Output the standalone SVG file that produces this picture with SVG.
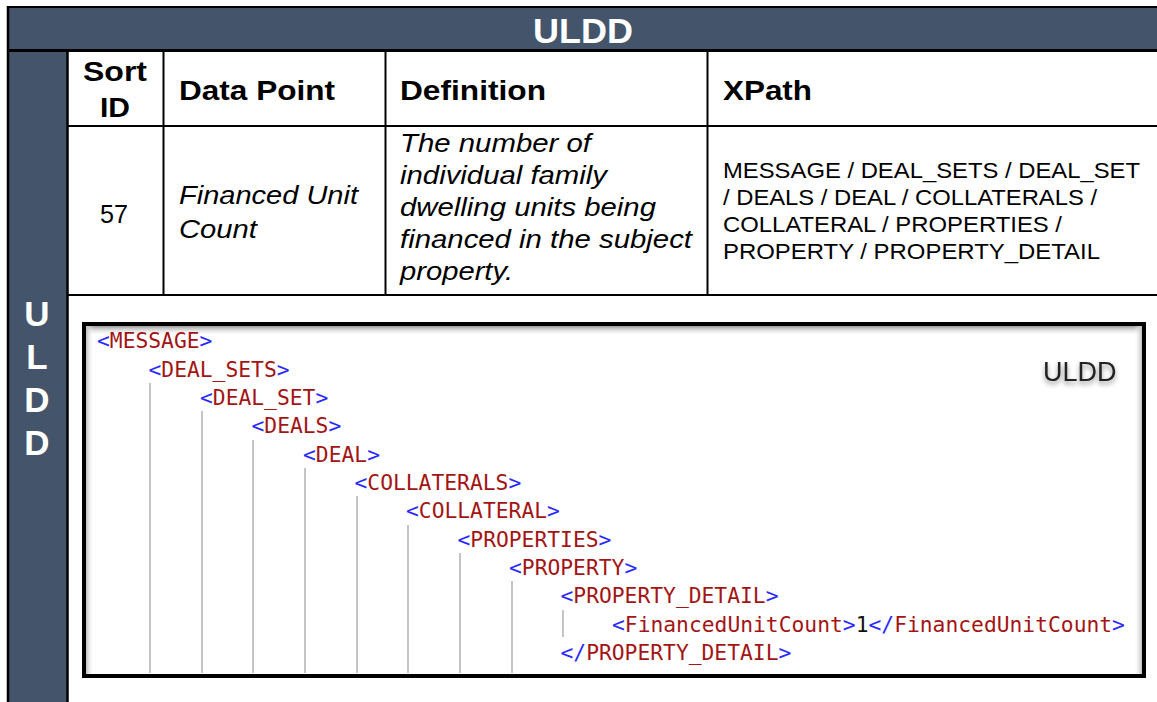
<svg xmlns="http://www.w3.org/2000/svg" width="1157" height="702" viewBox="0 0 1157 702">
<defs>
<style>
.hdr{font-family:"Liberation Sans",Arial,sans-serif;font-weight:bold;font-size:28.5px;fill:#000}
.cell{font-family:"Liberation Sans",Arial,sans-serif;font-size:26px;fill:#000}
.it{font-style:italic}
.xp{font-family:"Liberation Sans",Arial,sans-serif;font-size:21.5px;fill:#000}
.side{font-family:"Liberation Sans",Arial,sans-serif;font-weight:bold;font-size:35px;fill:#fff}
.code{font-family:"DejaVu Sans Mono","Liberation Mono",monospace;font-size:21.3px}
.b{fill:#2a2aff}
.r{fill:#a31515}
.k{fill:#111}
.guide{stroke:#c4c4c4;stroke-width:2}
.rule{stroke:#000;fill:none}
</style>
<linearGradient id="topShade" x1="0" y1="0" x2="0" y2="1">
<stop offset="0" stop-color="#9a9a9a"/>
<stop offset="1" stop-color="#ffffff" stop-opacity="0"/>
</linearGradient>
<linearGradient id="leftShade" x1="0" y1="0" x2="1" y2="0">
<stop offset="0" stop-color="#bdbdbd"/>
<stop offset="1" stop-color="#ffffff" stop-opacity="0"/>
</linearGradient>
<linearGradient id="rightShade" x1="1" y1="0" x2="0" y2="0">
<stop offset="0" stop-color="#bdbdbd"/>
<stop offset="1" stop-color="#ffffff" stop-opacity="0"/>
</linearGradient>
<filter id="shadow" x="-20%" y="-40%" width="140%" height="200%">
<feDropShadow dx="0" dy="3" stdDeviation="2.5" flood-color="#000" flood-opacity="0.45"/>
</filter>
</defs>

<rect x="0" y="0" width="1157" height="702" fill="#fff"/>

<g id="frame">
<rect x="8" y="8" width="1149" height="42" fill="#44546A"/>
<rect x="8" y="50" width="60" height="652" fill="#44546A"/>
<line class="rule" x1="7" y1="7" x2="1157" y2="7" stroke-width="2"/>
<line class="rule" x1="8" y1="6" x2="8" y2="702" stroke-width="2.5"/>
<line class="rule" x1="8" y1="50.5" x2="1157" y2="50.5" stroke-width="3"/>
<line class="rule" x1="67.5" y1="50" x2="67.5" y2="702" stroke-width="2.5"/>
</g>

<g id="title">
<text x="583" y="43" text-anchor="middle" font-family="Liberation Sans,Arial,sans-serif" font-weight="bold" font-size="35" fill="#fff" textLength="100" lengthAdjust="spacingAndGlyphs">ULDD</text>
</g>

<g id="side-label">
<text class="side" x="37" y="326" text-anchor="middle">U</text>
<text class="side" x="37" y="369" text-anchor="middle">L</text>
<text class="side" x="37" y="412" text-anchor="middle">D</text>
<text class="side" x="37" y="455" text-anchor="middle">D</text>
</g>

<g id="table">
<line class="rule" x1="68" y1="126" x2="1157" y2="126" stroke-width="2"/>
<line class="rule" x1="68" y1="295" x2="1157" y2="295" stroke-width="2"/>
<line class="rule" x1="163.5" y1="51" x2="163.5" y2="295" stroke-width="2"/>
<line class="rule" x1="385.5" y1="51" x2="385.5" y2="295" stroke-width="2"/>
<line class="rule" x1="707.5" y1="51" x2="707.5" y2="295" stroke-width="2"/>

<g id="header-row">
<text class="hdr" x="115" y="81" text-anchor="middle" textLength="64" lengthAdjust="spacingAndGlyphs">Sort</text>
<text class="hdr" x="115" y="117" text-anchor="middle" textLength="30" lengthAdjust="spacingAndGlyphs">ID</text>
<text class="hdr" x="179" y="100" textLength="156" lengthAdjust="spacingAndGlyphs">Data Point</text>
<text class="hdr" x="400" y="100" textLength="146" lengthAdjust="spacingAndGlyphs">Definition</text>
<text class="hdr" x="723" y="100" textLength="89" lengthAdjust="spacingAndGlyphs">XPath</text>
</g>

<g id="data-row">
<text class="cell" x="114" y="223" text-anchor="middle" textLength="28" lengthAdjust="spacingAndGlyphs">57</text>
<text class="cell it" x="179" y="204" textLength="179" lengthAdjust="spacingAndGlyphs">Financed Unit</text>
<text class="cell it" x="179" y="238" textLength="78" lengthAdjust="spacingAndGlyphs">Count</text>
<text class="cell it" x="400" y="152" textLength="191" lengthAdjust="spacingAndGlyphs">The number of</text>
<text class="cell it" x="400" y="184" textLength="207" lengthAdjust="spacingAndGlyphs">individual family</text>
<text class="cell it" x="400" y="216" textLength="256" lengthAdjust="spacingAndGlyphs">dwelling units being</text>
<text class="cell it" x="400" y="248" textLength="292" lengthAdjust="spacingAndGlyphs">financed in the subject</text>
<text class="cell it" x="400" y="280" textLength="113" lengthAdjust="spacingAndGlyphs">property.</text>
<text class="xp" x="723" y="178" textLength="417" lengthAdjust="spacingAndGlyphs">MESSAGE / DEAL_SETS / DEAL_SET</text>
<text class="xp" x="723" y="205" textLength="374" lengthAdjust="spacingAndGlyphs">/ DEALS / DEAL / COLLATERALS /</text>
<text class="xp" x="723" y="232" textLength="339" lengthAdjust="spacingAndGlyphs">COLLATERAL / PROPERTIES /</text>
<text class="xp" x="723" y="259" textLength="377" lengthAdjust="spacingAndGlyphs">PROPERTY / PROPERTY_DETAIL</text>
</g>
</g>

<g id="xml-screenshot">
<rect x="84" y="324" width="1060" height="352" fill="#fff"/>
<rect x="86" y="326" width="1056" height="10" fill="url(#topShade)"/>
<rect x="86" y="326" width="8" height="348" fill="url(#leftShade)"/>
<rect x="1134" y="326" width="8" height="348" fill="url(#rightShade)"/>

<g id="guides">
<line class="guide" x1="150" y1="383" x2="150" y2="673"/>
<line class="guide" x1="202" y1="411" x2="202" y2="673"/>
<line class="guide" x1="253" y1="440" x2="253" y2="673"/>
<line class="guide" x1="305" y1="468" x2="305" y2="673"/>
<line class="guide" x1="357" y1="496" x2="357" y2="673"/>
<line class="guide" x1="408" y1="525" x2="408" y2="673"/>
<line class="guide" x1="460" y1="553" x2="460" y2="673"/>
<line class="guide" x1="512" y1="581" x2="512" y2="673"/>
<line class="guide" x1="563" y1="610" x2="563" y2="637"/>
</g>

<g id="code" class="code">
<text x="97" y="348"><tspan class="b">&lt;</tspan><tspan class="r">MESSAGE</tspan><tspan class="b">&gt;</tspan></text>
<text x="148.5" y="377"><tspan class="b">&lt;</tspan><tspan class="r">DEAL_SETS</tspan><tspan class="b">&gt;</tspan></text>
<text x="200" y="405"><tspan class="b">&lt;</tspan><tspan class="r">DEAL_SET</tspan><tspan class="b">&gt;</tspan></text>
<text x="251.5" y="433"><tspan class="b">&lt;</tspan><tspan class="r">DEALS</tspan><tspan class="b">&gt;</tspan></text>
<text x="303" y="462"><tspan class="b">&lt;</tspan><tspan class="r">DEAL</tspan><tspan class="b">&gt;</tspan></text>
<text x="354.5" y="490"><tspan class="b">&lt;</tspan><tspan class="r">COLLATERALS</tspan><tspan class="b">&gt;</tspan></text>
<text x="406" y="518"><tspan class="b">&lt;</tspan><tspan class="r">COLLATERAL</tspan><tspan class="b">&gt;</tspan></text>
<text x="457.5" y="547"><tspan class="b">&lt;</tspan><tspan class="r">PROPERTIES</tspan><tspan class="b">&gt;</tspan></text>
<text x="509" y="575"><tspan class="b">&lt;</tspan><tspan class="r">PROPERTY</tspan><tspan class="b">&gt;</tspan></text>
<text x="560.5" y="603"><tspan class="b">&lt;</tspan><tspan class="r">PROPERTY_DETAIL</tspan><tspan class="b">&gt;</tspan></text>
<text x="612" y="632"><tspan class="b">&lt;</tspan><tspan class="r">FinancedUnitCount</tspan><tspan class="b">&gt;</tspan><tspan class="k">1</tspan><tspan class="b">&lt;/</tspan><tspan class="r">FinancedUnitCount</tspan><tspan class="b">&gt;</tspan></text>
<text x="560.5" y="660"><tspan class="b">&lt;/</tspan><tspan class="r">PROPERTY_DETAIL</tspan><tspan class="b">&gt;</tspan></text>
</g>

<text x="1043" y="381" font-family="Liberation Sans,Arial,sans-serif" font-size="27" fill="#222" filter="url(#shadow)">ULDD</text>

<rect x="84" y="324" width="1060" height="352" fill="none" stroke="#000" stroke-width="4"/>
</g>
</svg>
